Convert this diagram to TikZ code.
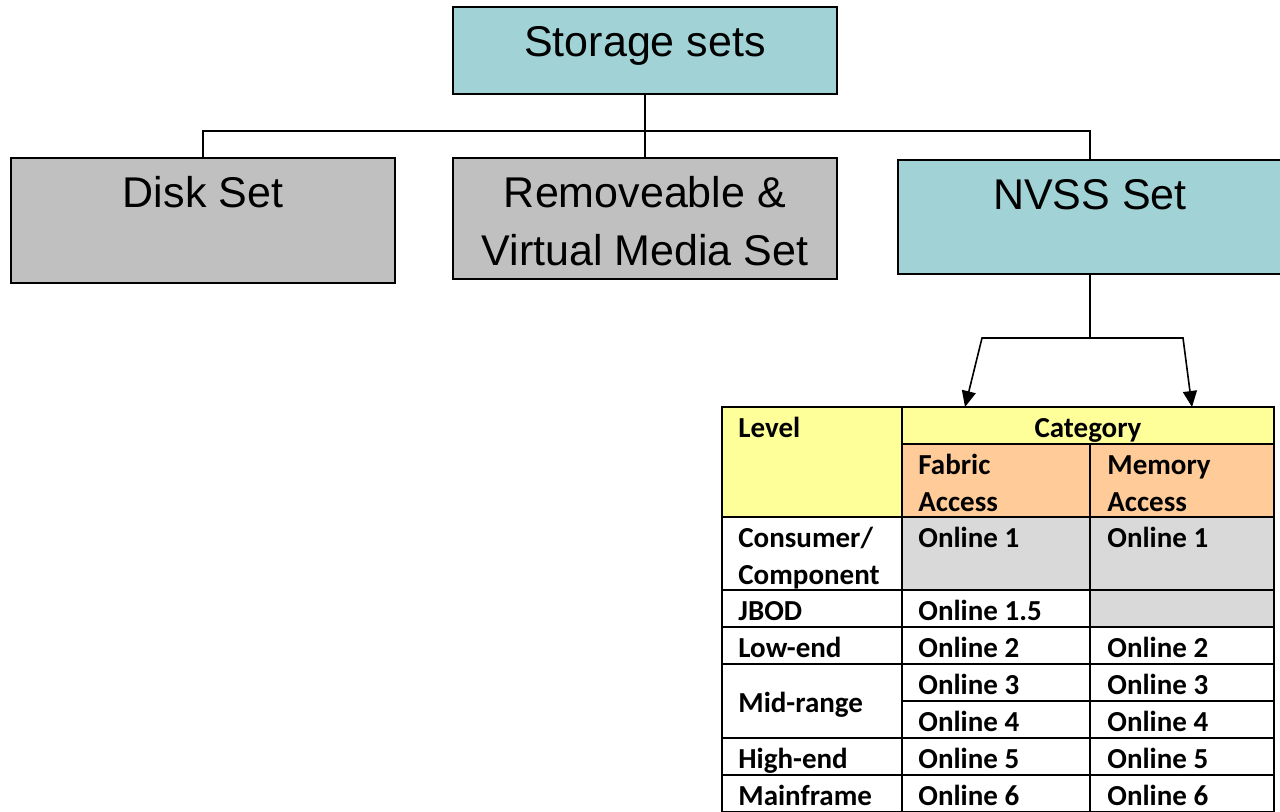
\documentclass[tikz,border=0pt]{standalone}
\usepackage{fontspec}
\setmainfont{Liberation Sans}
\newfontfamily\cellfont{Carlito}
\usetikzlibrary{arrows.meta}
\definecolor{tealfill}{RGB}{160,210,214}
\definecolor{grayfill}{RGB}{192,192,192}
\definecolor{yellowfill}{RGB}{255,255,153}
\definecolor{orangefill}{RGB}{255,204,153}
\definecolor{cellgray}{RGB}{217,217,217}
\newcommand\labelstrut{\rule{0pt}{25pt}}
\newcommand\cellstrut{\rule{0pt}{15pt}}
\tikzset{
  setbox/.style={rectangle, draw=black, line width=1pt, minimum width=192pt, inner sep=0pt},
  tealbox/.style={setbox, fill=tealfill},
  graybox/.style={setbox, fill=grayfill},
  boxlabel/.style={anchor=north, inner sep=0pt, align=center, font=\fontsize{21.5}{29}\selectfont},
  conn/.style={line width=0.8pt, draw=black},
  tip/.style={-{Triangle[length=8pt,width=7pt]}},
  cell/.style={anchor=north west, inner sep=0pt, align=left, font=\cellfont\bfseries\fontsize{14.5}{18.5}\selectfont},
  grid/.style={line width=1.3pt, draw=black}
}
\begin{document}
\begin{tikzpicture}[x=0.5pt,y=-0.5pt]
\useasboundingbox (0,0) rectangle (1280,811);
\fill[white] (0,0) rectangle (1280,811);

% boxes
\node[tealbox, minimum height=43.5pt] (storage) at (645,50.5) {};
\node[boxlabel] (storagelbl) at (storage.north) {\labelstrut Storage sets};
\node[graybox, minimum height=62.5pt] (disk) at (203,220.5) {};
\node[boxlabel] (disklbl) at (disk.north) {\labelstrut Disk Set};
\node[graybox, minimum height=60.5pt] (remove) at (645,218.5) {};
\node[boxlabel] (removelbl) at (remove.north) {\labelstrut Removeable \&\\Virtual Media Set};
\node[tealbox, minimum height=57pt] (nvss) at (1090,217) {};
\node[boxlabel] (nvsslbl) at (nvss.north) {\labelstrut NVSS Set};

% tree connectors
\coordinate (bus) at (0,131);
\draw[conn] (storage.south) -- (remove.north);
\draw[conn] (disk.north) -- (disk.north |- bus) -- (nvss.north |- bus) -- (nvss.north);

% NVSS to table
\coordinate (split) at (1090,338);
\coordinate (cL) at (982,338);
\coordinate (cR) at (1183,338);
\coordinate (tipL) at (965,407);
\coordinate (tipR) at (1192,407);
\draw[conn] (nvss.south) -- (split);
\draw[conn, tip] (split) -- (cL) -- (tipL);
\draw[conn, tip] (split) -- (cR) -- (tipR);

% table fills
\fill[yellowfill] (722,407) rectangle (902,517);
\fill[yellowfill] (902,407) rectangle (1274,444);
\fill[orangefill] (902,444) rectangle (1274,517);
\fill[cellgray] (902,517) rectangle (1274,590);
\fill[cellgray] (1090,590) rectangle (1274,627);

% table grid
\draw[grid] (722,407) rectangle (1274,812);
\draw[grid] (902,407) -- (902,812);
\draw[grid] (1090,444) -- (1090,812);
\draw[grid] (902,444) -- (1274,444);
\foreach \yy in {517,590,627,664,738,775} {\draw[grid] (722,\yy) -- (1274,\yy);}
\draw[grid] (902,701) -- (1274,701);

% table text
\node[cell] (hlevel) at (738,407) {\cellstrut Level};
\node[cell, anchor=north] (hcat) at (1088,407) {\cellstrut Category};
\node[cell] (hfab) at (918,444) {\cellstrut Fabric\\Access};
\node[cell] (hmem) at (1107,444) {\cellstrut Memory\\Access};

\node[cell] (l1) at (738,517) {\cellstrut Consumer/\\Component};
\node[cell] (f1) at (918,517) {\cellstrut Online 1};
\node[cell] (m1) at (1107,517) {\cellstrut Online 1};

\node[cell] (l2) at (738,590) {\cellstrut JBOD};
\node[cell] (f2) at (918,590) {\cellstrut Online 1.5};

\node[cell] (l3) at (738,627) {\cellstrut Low-end};
\node[cell] (f3) at (918,627) {\cellstrut Online 2};
\node[cell] (m3) at (1107,627) {\cellstrut Online 2};

\node[cell] (l4) at (738,682) {\cellstrut Mid-range};
\node[cell] (f4) at (918,664) {\cellstrut Online 3};
\node[cell] (m4) at (1107,664) {\cellstrut Online 3};
\node[cell] (f5) at (918,701) {\cellstrut Online 4};
\node[cell] (m5) at (1107,701) {\cellstrut Online 4};

\node[cell] (l6) at (738,738) {\cellstrut High-end};
\node[cell] (f6) at (918,738) {\cellstrut Online 5};
\node[cell] (m6) at (1107,738) {\cellstrut Online 5};

\node[cell] (l7) at (738,775) {\cellstrut Mainframe};
\node[cell] (f7) at (918,775) {\cellstrut Online 6};
\node[cell] (m7) at (1107,775) {\cellstrut Online 6};
\end{tikzpicture}
\end{document}
